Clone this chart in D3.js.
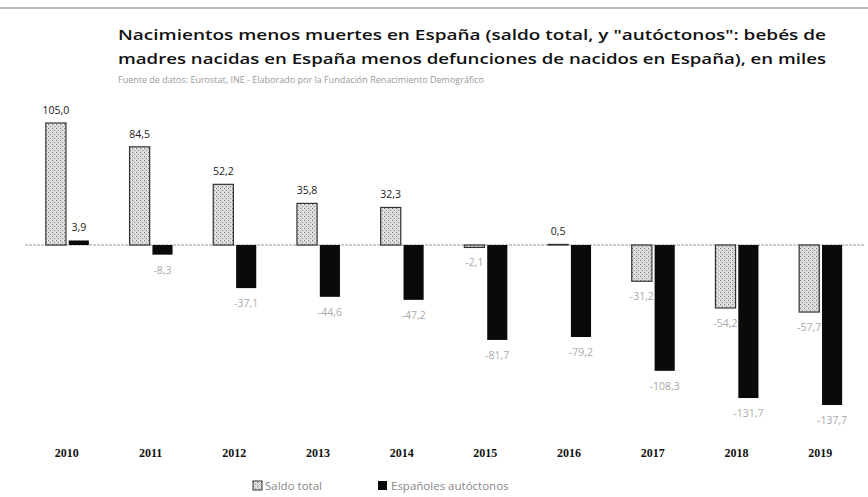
<!DOCTYPE html>
<html><head><meta charset="utf-8">
<script src="https://cdn.jsdelivr.net/npm/d3@7"></script>
<style>body{margin:0;background:#fff}svg{display:block}</style>
</head><body>
<svg id="c" width="868" height="497"></svg>
<script>
const years = ["2010","2011","2012","2013","2014","2015","2016","2017","2018","2019"];
const saldoTotal = [105.0, 84.5, 52.2, 35.8, 32.3, -2.1, 0.5, -31.2, -54.2, -57.7];
const autoctonos = [3.9, -8.3, -37.1, -44.6, -47.2, -81.7, -79.2, -108.3, -131.7, -137.7];
const seriesNames = ["Saldo total", "Españoles autóctonos"];
const titleLines = ["Nacimientos menos muertes en España (saldo total, y \"autóctonos\": bebés de",
                    "madres nacidas  en España menos defunciones de nacidos en España), en miles"];
const sourceText = "Fuente de datos: Eurostat, INE - Elaborado por la Fundación Renacimiento Demográfico";

const svg = d3.select("#c");
const font = "'Open Sans', sans-serif";
const fmt = v => v.toFixed(1).replace(".", ",");

const defs = svg.append("defs");
const pat = defs.append("pattern").attr("id","dots").attr("patternUnits","userSpaceOnUse")
  .attr("width",4).attr("height",4);
pat.append("rect").attr("width",4).attr("height",4).attr("fill","#d9d9d9");
pat.append("rect").attr("x",0).attr("y",0).attr("width",1).attr("height",1).attr("fill","#7a7a7a");
pat.append("rect").attr("x",2).attr("y",2).attr("width",1).attr("height",1).attr("fill","#999");
pat.append("rect").attr("x",3).attr("y",0).attr("width",1).attr("height",1).attr("fill","#f4f4f4");

svg.append("line").attr("x1",0).attr("x2",868).attr("y1",8).attr("y2",8)
  .attr("stroke","#777").attr("stroke-width",1);

titleLines.forEach((t,i)=>{
  svg.append("text").attr("x",118).attr("y",40+i*24).text(t)
    .attr("font-family",font).attr("font-size",14).attr("font-weight",600).attr("fill","#111")
    .attr("textLength",708).attr("lengthAdjust","spacingAndGlyphs");
});
svg.append("text").attr("x",118).attr("y",83).text(sourceText)
  .attr("font-family",font).attr("font-size",9.5).attr("fill","#999")
  .attr("textLength",366).attr("lengthAdjust","spacingAndGlyphs");

const x = d3.scaleBand().domain(years).range([25, 862]).paddingInner(0).paddingOuter(0);
const inner = d3.scaleBand().domain([0,1]).range([-21, 22]).paddingInner(0.12);
const y = d3.scaleLinear().domain([0, 105]).range([245, 123]);

svg.append("line").attr("x1",25).attr("x2",865).attr("y1",y(0)).attr("y2",y(0))
  .attr("stroke","#999").attr("stroke-width",1.2).attr("stroke-dasharray","3,1");

const g = svg.append("g");
const data = [];
years.forEach((yr,i)=>{
  data.push({yr, s:0, v:saldoTotal[i]});
  data.push({yr, s:1, v:autoctonos[i]});
});
const cx = d => x(d.yr) + x.bandwidth()/2 + inner(d.s);
g.selectAll("rect.bar").data(data).join("rect").attr("class","bar")
  .attr("x", cx)
  .attr("width", inner.bandwidth())
  .attr("y", d => Math.min(y(d.v), y(0)))
  .attr("height", d => Math.abs(y(d.v)-y(0)))
  .attr("fill", d => d.s===0 ? "url(#dots)" : "#0a0a0a")
  .attr("stroke", d => d.s===0 ? "#333" : "none")
  .attr("stroke-width", 1.2);

g.selectAll("text.lbl").data(data).join("text").attr("class","lbl")
  .attr("x", d => cx(d) + inner.bandwidth()/2)
  .attr("y", d => d.v >= 0 ? y(d.v) - 9 : y(d.v) + 19)
  .attr("text-anchor","middle")
  .attr("font-family",font).attr("font-size",10.5)
  .attr("fill", d => d.v >= 0 ? "#222" : "#aaa")
  .text(d => fmt(d.v));

const xa = svg.append("g").attr("transform","translate(0,448)")
  .call(d3.axisBottom(x).tickSize(0).tickPadding(0));
xa.select(".domain").remove();
xa.selectAll("text").attr("font-family","'Liberation Serif', serif").attr("font-size",12)
  .attr("font-weight","bold").attr("fill","#111");

const leg = svg.append("g").attr("transform","translate(253,490)");
leg.append("rect").attr("x",0).attr("y",-9).attr("width",9).attr("height",9)
  .attr("fill","url(#dots)").attr("stroke","#333");
leg.append("text").attr("x",12).attr("y",0).text(seriesNames[0])
  .attr("font-family",font).attr("font-size",11.5).attr("fill","#888");
leg.append("rect").attr("x",125).attr("y",-9).attr("width",9).attr("height",9).attr("fill","#0a0a0a");
leg.append("text").attr("x",138).attr("y",0).text(seriesNames[1])
  .attr("font-family",font).attr("font-size",11.5).attr("fill","#888");
</script>
</body></html>
